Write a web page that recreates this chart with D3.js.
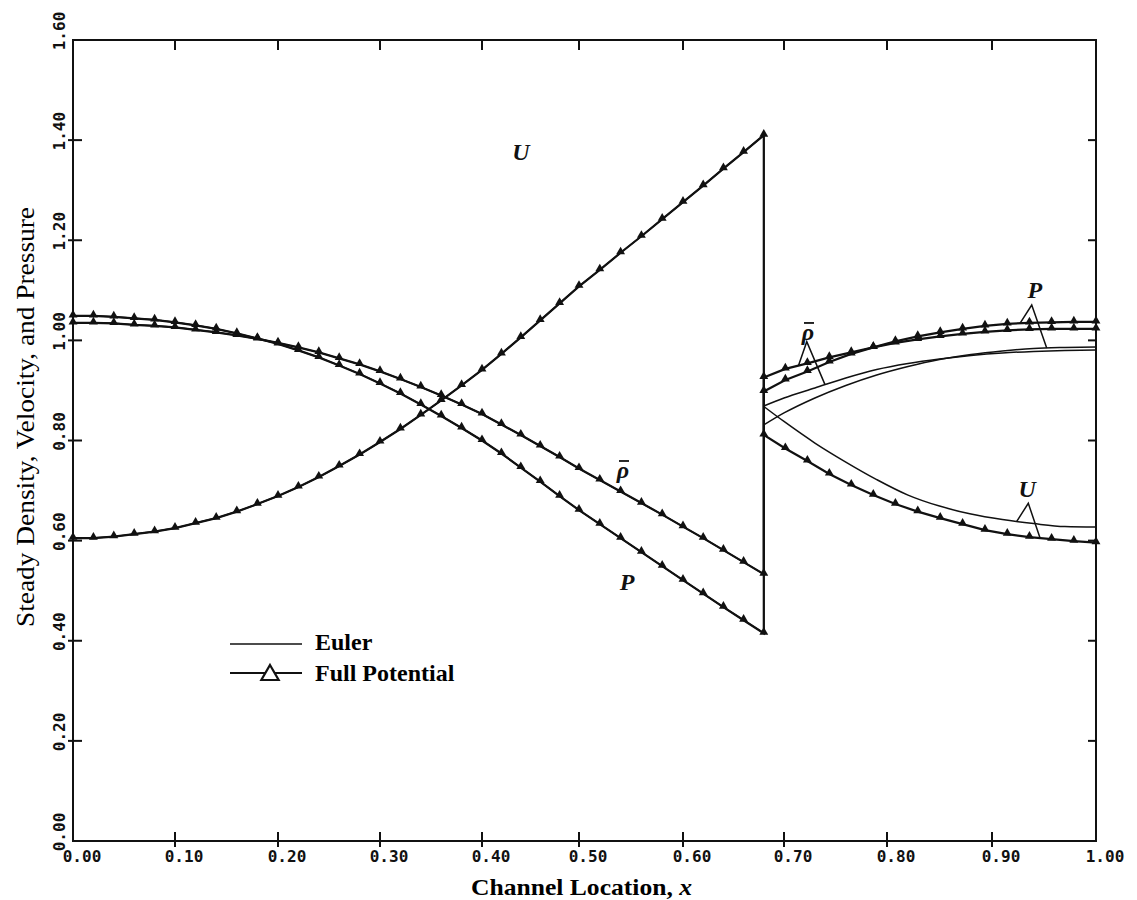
<!DOCTYPE html>
<html>
<head>
<meta charset="utf-8">
<script src="https://cdn.jsdelivr.net/npm/d3@7"></script>
<style>
  body { margin: 0; background: #fff; }
  .tick-label { font-family: 'DejaVu Sans Mono', monospace; font-weight: bold; font-size: 16px; fill: #111; }
  .curve-label { font-family: 'Liberation Serif', serif; font-weight: bold; font-style: italic; font-size: 24px; fill: #111; }
</style>
</head>
<body>
<svg id="chart" width="1137" height="900"></svg>
<script>
// Full potential nodes, upstream of the shock
const fpLeftX = [0, 0.02, 0.04, 0.06, 0.08, 0.10, 0.12, 0.14, 0.16, 0.18, 0.20, 0.22, 0.24, 0.26, 0.28, 0.30, 0.32, 0.34,
  0.36, 0.38, 0.40, 0.42, 0.44, 0.46, 0.48, 0.50, 0.52, 0.54, 0.56, 0.58, 0.60, 0.62, 0.64, 0.66, 0.68]
const fpLeftU = [0.605, 0.605, 0.608, 0.613, 0.618, 0.625, 0.635, 0.645, 0.658, 0.673, 0.689, 0.707, 0.727, 0.749, 0.772,
  0.797, 0.823, 0.851, 0.880, 0.910, 0.941, 0.973, 1.006, 1.040, 1.074, 1.108, 1.141, 1.175, 1.208, 1.242, 1.276, 1.309,
  1.343, 1.376, 1.41]
const fpLeftRho = [1.035, 1.035, 1.034, 1.031, 1.029, 1.026, 1.021, 1.016, 1.010, 1.003, 0.995, 0.986, 0.976, 0.964, 0.952,
  0.938, 0.923, 0.907, 0.890, 0.872, 0.853, 0.832, 0.811, 0.789, 0.767, 0.744, 0.721, 0.698, 0.675, 0.652, 0.628, 0.605,
  0.581, 0.557, 0.533]
const fpLeftP = [1.049, 1.049, 1.047, 1.044, 1.041, 1.036, 1.030, 1.023, 1.014, 1.004, 0.993, 0.980, 0.966, 0.950, 0.933,
  0.914, 0.894, 0.872, 0.849, 0.825, 0.800, 0.774, 0.746, 0.718, 0.689, 0.661, 0.633, 0.605, 0.577, 0.549, 0.521, 0.494,
  0.467, 0.441, 0.415]

// Full potential nodes, downstream of the shock
const fpRightX = [0.68, 0.7013, 0.7227, 0.744, 0.7653, 0.7867, 0.808, 0.8293, 0.8507, 0.872, 0.8933, 0.9147, 0.936, 0.9573,
  0.9787, 1.0]
const fpRightU = [0.811, 0.784, 0.759, 0.733, 0.711, 0.691, 0.673, 0.658, 0.645, 0.633, 0.621, 0.613, 0.607, 0.603, 0.599, 0.596]
const fpRightRho = [0.926, 0.943, 0.954, 0.966, 0.976, 0.986, 0.995, 1.002, 1.008, 1.013, 1.017, 1.020, 1.022, 1.023, 1.023, 1.023]
const fpRightP = [0.898, 0.921, 0.938, 0.957, 0.973, 0.986, 0.998, 1.008, 1.016, 1.023, 1.029, 1.033, 1.035, 1.036, 1.037, 1.037]

// Euler solution downstream of the shock (upstream it lies on the full potential curves)
const eulerRightX = [0.68, 0.70, 0.73, 0.76, 0.79, 0.82, 0.85, 0.88, 0.91, 0.94, 0.97, 1.0]
const eulerRightU = [0.868, 0.838, 0.795, 0.757, 0.722, 0.691, 0.669, 0.653, 0.642, 0.634, 0.628, 0.627]
const eulerRightRho = [0.869, 0.885, 0.905, 0.925, 0.942, 0.954, 0.963, 0.970, 0.975, 0.978, 0.980, 0.981]
const eulerRightP = [0.831, 0.855, 0.885, 0.910, 0.931, 0.948, 0.962, 0.972, 0.979, 0.984, 0.986, 0.987]

const xTicks = [0, 0.1, 0.2, 0.3, 0.4, 0.5, 0.6, 0.7, 0.8, 0.9, 1.0]
const yTicks = [0, 0.2, 0.4, 0.6, 0.8, 1.0, 1.2, 1.4, 1.6]
// the scanned axis is not evenly spaced, so the x scale is piecewise over the ticks
const xTickPx = [73, 175, 278, 380, 482, 579, 683, 784, 887, 992, 1096]

const svg = d3.select('#chart')
const x = d3.scaleLinear().domain(xTicks).range(xTickPx)
const y = d3.scaleLinear().domain([0, 1.6]).range([841, 40])

function pts(xs, ys) {
  return xs.map((v, i) => [v, ys[i]])
}
function at(xs, ys, xv) {
  return d3.scaleLinear().domain(xs).range(ys)(xv)
}

const series = [
  { name: 'U', fpL: fpLeftU, fpR: fpRightU, eu: eulerRightU },
  { name: 'rho', fpL: fpLeftRho, fpR: fpRightRho, eu: eulerRightRho },
  { name: 'P', fpL: fpLeftP, fpR: fpRightP, eu: eulerRightP },
]

const lin = d3.line().x(d => x(d[0])).y(d => y(d[1]))
const smooth = d3.line().x(d => x(d[0])).y(d => y(d[1])).curve(d3.curveMonotoneX)

// Euler (thin)
const euler = svg.append('g').attr('fill', 'none').attr('stroke', '#111').attr('stroke-width', 1.5)
series.forEach(s => {
  euler.append('path').attr('d', lin(pts(fpLeftX, s.fpL)))
  euler.append('path').attr('d', lin([[0.68, s.fpL[s.fpL.length - 1]], [0.68, s.eu[0]]]))
  euler.append('path').attr('d', smooth(pts(eulerRightX, s.eu)))
})

// Full potential (thick with triangles)
const fp = svg.append('g').attr('fill', 'none').attr('stroke', '#111').attr('stroke-width', 2.2)
series.forEach(s => {
  fp.append('path').attr('d', lin(pts(fpLeftX, s.fpL).concat(pts(fpRightX, s.fpR))))
})
const tri = d3.symbol().type(d3.symbolTriangle).size(34)
const markers = svg.append('g').attr('fill', '#111')
series.forEach(s => {
  markers
    .selectAll(null)
    .data(pts(fpLeftX, s.fpL).concat(pts(fpRightX, s.fpR)))
    .enter()
    .append('path')
    .attr('d', tri)
    .attr('transform', d => 'translate(' + x(d[0]) + ',' + (y(d[1]) - 1) + ')')
})

// frame and ticks
const frame = svg.append('g').attr('stroke', '#111').attr('stroke-width', 2).attr('fill', 'none')
frame.append('rect').attr('x', x(0)).attr('y', y(1.6)).attr('width', x(1) - x(0)).attr('height', y(0) - y(1.6))
frame.selectAll('.bt').data(xTicks.slice(1, -1)).enter().append('line')
  .attr('x1', d => x(d)).attr('x2', d => x(d)).attr('y1', y(0) - 9).attr('y2', y(0) + 6)
frame.selectAll('.tt').data(xTicks.slice(1, -1)).enter().append('line')
  .attr('x1', d => x(d)).attr('x2', d => x(d)).attr('y1', y(1.6)).attr('y2', y(1.6) + 10)
frame.selectAll('.lt').data(yTicks.slice(1, -1)).enter().append('line')
  .attr('x1', x(0) - 5).attr('x2', x(0) + 9).attr('y1', d => y(d)).attr('y2', d => y(d))
frame.selectAll('.rt').data(yTicks.slice(1, -1)).enter().append('line')
  .attr('x1', x(1) - 8).attr('x2', x(1)).attr('y1', d => y(d)).attr('y2', d => y(d))

const fmt = d3.format('.2f')
svg.append('g').selectAll('text').data(xTicks).enter().append('text')
  .attr('class', 'tick-label')
  .attr('x', d => x(d) + 9)
  .attr('y', y(0) + 21)
  .attr('text-anchor', 'middle')
  .text(fmt)
svg.append('g').selectAll('text').data(yTicks).enter().append('text')
  .attr('class', 'tick-label')
  .attr('transform', d => 'translate(' + (x(0) - 8) + ',' + (y(d) - 9) + ') rotate(-90)')
  .attr('text-anchor', 'middle')
  .text(fmt)

// axis titles
const xTitle = svg.append('text')
  .attr('x', 471).attr('y', 895)
  .style('font-family', "'Liberation Serif', serif").style('font-weight', 'bold').style('font-size', '24px')
  .attr('textLength', 221).attr('lengthAdjust', 'spacingAndGlyphs')
xTitle.append('tspan').text('Channel Location, ')
xTitle.append('tspan').style('font-style', 'italic').text('x')

svg.append('text')
  .attr('transform', 'translate(34,417) rotate(-90)')
  .attr('text-anchor', 'middle')
  .style('font-family', "'Liberation Serif', serif").style('font-size', '25px')
  .attr('textLength', 420).attr('lengthAdjust', 'spacingAndGlyphs')
  .text('Steady Density, Velocity, and Pressure')

// legend
const legend = svg.append('g').attr('transform', 'translate(230,644)')
legend.append('line').attr('x1', 0).attr('x2', 72).attr('y1', 0).attr('y2', 0).attr('stroke', '#111').attr('stroke-width', 1.5)
legend.append('line').attr('x1', 0).attr('x2', 72).attr('y1', 29).attr('y2', 29).attr('stroke', '#111').attr('stroke-width', 2.2)
legend.append('path').attr('d', d3.symbol().type(d3.symbolTriangle).size(130))
  .attr('transform', 'translate(40,31)').attr('fill', '#fff').attr('stroke', '#111').attr('stroke-width', 2.2)
legend.selectAll('text').data(['Euler', 'Full Potential']).enter().append('text')
  .attr('x', 85).attr('y', (d, i) => 6 + i * 31)
  .style('font-family', "'Liberation Serif', serif").style('font-weight', 'bold').style('font-size', '24px')
  .text(d => d)

// curve labels
const labels = [
  { t: 'U', x: 0.4402, y: 1.3764 },
  { t: 'ρ', bar: true, x: 0.5423, y: 0.7411 },
  { t: 'P', x: 0.5462, y: 0.5174 },
  { t: 'ρ', bar: true, x: 0.7233, y: 1.0168 },
  { t: 'P', x: 0.9413, y: 1.1007 },
  { t: 'U', x: 0.9337, y: 0.7032 },
]
const lg = svg.append('g')
labels.forEach(l => {
  lg.append('text').attr('class', 'curve-label')
    .attr('x', x(l.x)).attr('y', y(l.y) + 8).attr('text-anchor', 'middle').text(l.t)
  if (l.bar) {
    lg.append('line').attr('x1', x(l.x) - 4).attr('x2', x(l.x) + 6).attr('y1', y(l.y) - 9).attr('y2', y(l.y) - 9)
      .attr('stroke', '#111').attr('stroke-width', 1.8)
  }
})

// leader lines from the right-hand labels to the curves they name
const leaders = [
  { apex: [0.7221, 0.9974], ends: [[0.7140, fpRightX, fpRightRho], [0.7398, eulerRightX, eulerRightRho]] },
  { apex: [0.9382, 1.0707], ends: [[0.9269, fpRightX, fpRightP], [0.9526, eulerRightX, eulerRightP]] },
  { apex: [0.9349, 0.6746], ends: [[0.9238, eulerRightX, eulerRightU], [0.9462, fpRightX, fpRightU]] },
]
leaders.forEach(l => {
  const a = l.ends[0], b = l.ends[1]
  svg.append('path')
    .attr('d', lin([[a[0], at(a[1], a[2], a[0])], l.apex, [b[0], at(b[1], b[2], b[0])]]))
    .attr('fill', 'none').attr('stroke', '#111').attr('stroke-width', 1.5)
})
</script>
</body>
</html>
